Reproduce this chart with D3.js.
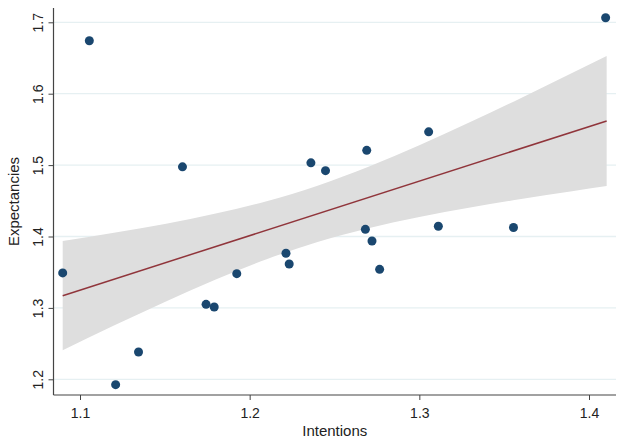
<!DOCTYPE html>
<html lang="en">
<head>
    <meta charset="UTF-8">
    <title>Expectancies vs Intentions</title>
    <script src="https://d3js.org/d3.v7.min.js"></script>
    <style>
        body { margin: 0; background: #fff; }
        svg { font-family: "Liberation Sans", Arial, sans-serif; }
    </style>
</head>
<body>
    <div id="chart"></div>
    <script>
        // Scatter points
        const intentions = [1.0898, 1.1055, 1.1604, 1.1345, 1.1210, 1.1743, 1.1791, 1.1924, 1.2214, 1.2233,
                            1.2361, 1.2447, 1.2690, 1.2682, 1.2721, 1.2766, 1.3055, 1.3112, 1.3555, 1.4098];
        const expectancies = [1.3490, 1.6742, 1.4976, 1.2382, 1.1925, 1.3050, 1.3013, 1.3480, 1.3765, 1.3615,
                              1.5032, 1.4922, 1.5207, 1.4100, 1.3937, 1.3540, 1.5466, 1.4144, 1.4126, 1.7064];

        // Fitted line and 95% CI band
        const fitX = [1.0898, 1.4104];
        const fitY = [1.3171, 1.5618];
        const bandX = [1.0898, 1.12, 1.15, 1.18, 1.21, 1.24, 1.27, 1.30, 1.33, 1.36, 1.39, 1.4104];
        const bandUpper = [1.3936, 1.4052, 1.4176, 1.4321, 1.4494, 1.4712, 1.4976, 1.5277, 1.5602, 1.5941, 1.6289, 1.6528];
        const bandLower = [1.2406, 1.2752, 1.3084, 1.3399, 1.3682, 1.3922, 1.4116, 1.4273, 1.4406, 1.4525, 1.4635, 1.4708];

        const xTicks = [1.1, 1.2, 1.3, 1.4];
        const yTicks = [1.2, 1.3, 1.4, 1.5, 1.6, 1.7];

        const W = 625, H = 444;
        const plotLeft = 53.5, plotRight = 616, plotTop = 8, plotBottom = 395;

        const xScale = d3.scaleLinear().domain([1.1, 1.4]).range([80, 589]);
        const yScale = d3.scaleLinear().domain([1.2, 1.7]).range([379.3, 22.3]);

        const svg = d3.select("#chart").append("svg")
            .attr("width", W)
            .attr("height", H);

        // gridlines
        svg.append("g").selectAll("line")
            .data(yTicks)
            .join("line")
            .attr("x1", plotLeft)
            .attr("x2", plotRight)
            .attr("y1", d => yScale(d))
            .attr("y2", d => yScale(d))
            .attr("stroke", "#e6f0f2")
            .attr("stroke-width", 1.3);

        // CI band
        const bandData = bandX.map((x, i) => ({x: x, lo: bandLower[i], hi: bandUpper[i]}));
        const area = d3.area()
            .x(d => xScale(d.x))
            .y0(d => yScale(d.lo))
            .y1(d => yScale(d.hi))
            .curve(d3.curveMonotoneX);
        svg.append("path")
            .datum(bandData)
            .attr("d", area)
            .attr("fill", "#dedede");

        // scatter
        svg.append("g").selectAll("circle")
            .data(intentions.map((x, i) => ({x: x, y: expectancies[i]})))
            .join("circle")
            .attr("cx", d => xScale(d.x))
            .attr("cy", d => yScale(d.y))
            .attr("r", 4.5)
            .attr("fill", "#1a476f");

        // fitted line
        const line = d3.line()
            .x(d => xScale(d.x))
            .y(d => yScale(d.y));
        svg.append("path")
            .datum(fitX.map((x, i) => ({x: x, y: fitY[i]})))
            .attr("d", line)
            .attr("fill", "none")
            .attr("stroke", "#90353b")
            .attr("stroke-width", 1.5);

        // axes
        const axisColor = "#444";
        const xAxis = svg.append("g")
            .attr("transform", `translate(0,${plotBottom})`)
            .call(d3.axisBottom(xScale).tickValues(xTicks).tickSize(5).tickFormat(d3.format(".1f")));
        xAxis.select(".domain").remove();
        xAxis.selectAll("line").attr("stroke", axisColor);
        xAxis.selectAll("text")
            .attr("y", 23)
            .attr("dy", 0)
            .attr("font-size", 14)
            .attr("font-family", "Liberation Sans, Arial, sans-serif")
            .attr("fill", "#222");

        const yAxis = svg.append("g")
            .attr("transform", `translate(${plotLeft},0)`)
            .call(d3.axisLeft(yScale).tickValues(yTicks).tickSize(5).tickFormat(d3.format(".1f")));
        yAxis.select(".domain").remove();
        yAxis.selectAll("line").attr("stroke", axisColor);
        yAxis.selectAll("text")
            .attr("x", 0)
            .attr("y", -11)
            .attr("dy", 0)
            .attr("transform", "rotate(-90)")
            .attr("text-anchor", "middle")
            .attr("font-size", 14)
            .attr("font-family", "Liberation Sans, Arial, sans-serif")
            .attr("fill", "#222");

        svg.append("line")
            .attr("x1", plotLeft).attr("x2", plotRight)
            .attr("y1", plotBottom).attr("y2", plotBottom)
            .attr("stroke", axisColor).attr("stroke-width", 1.2);
        svg.append("line")
            .attr("x1", plotLeft).attr("x2", plotLeft)
            .attr("y1", plotTop).attr("y2", plotBottom)
            .attr("stroke", axisColor).attr("stroke-width", 1.2);

        // axis titles
        svg.append("text")
            .attr("x", (plotLeft + plotRight) / 2)
            .attr("y", 436)
            .attr("text-anchor", "middle")
            .attr("font-size", 15)
            .attr("fill", "#222")
            .text("Intentions");

        svg.append("text")
            .attr("transform", `translate(19,${(plotTop + plotBottom) / 2}) rotate(-90)`)
            .attr("text-anchor", "middle")
            .attr("font-size", 15)
            .attr("fill", "#222")
            .text("Expectancies");
    </script>
</body>
</html>
